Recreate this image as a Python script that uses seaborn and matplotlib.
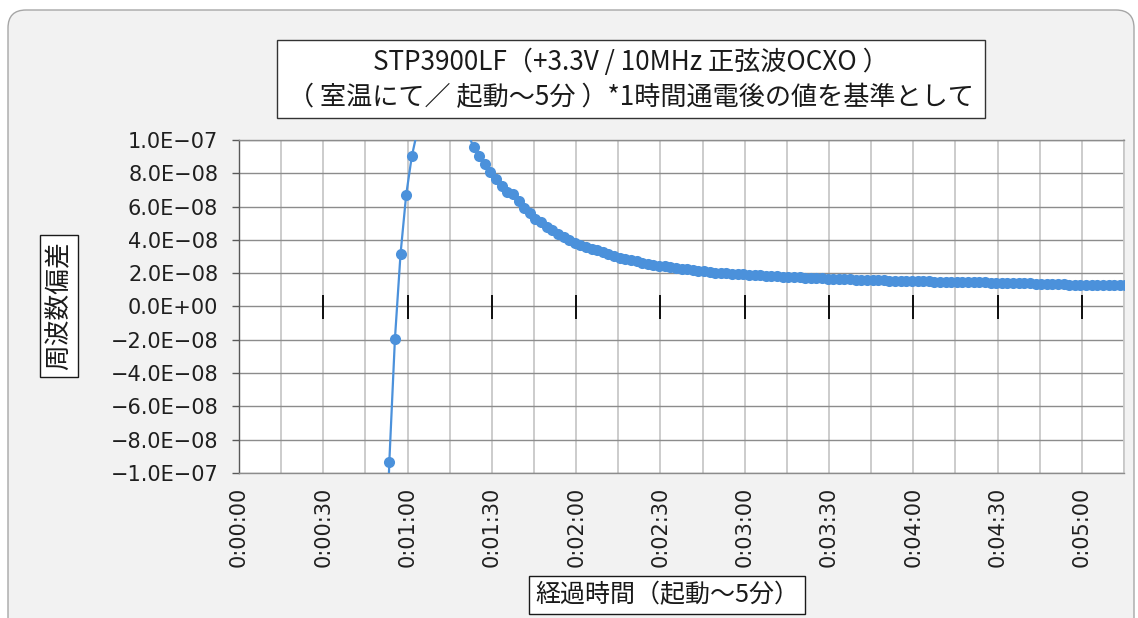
import numpy as np
import pandas as pd
import matplotlib
matplotlib.use('Agg')
import matplotlib.pyplot as plt
import seaborn as sns
from matplotlib.patches import FancyBboxPatch, Rectangle
from matplotlib.ticker import MultipleLocator, FuncFormatter

# 測定データ（2秒ごとのサンプル, 単位: 1e-8）
t_start = 51.5   # 最初のサンプルの経過秒
t_step = 2.0     # サンプル間隔 [s]
dev_e8 = [
    -19.5, -9.35, -1.94, 3.17, 6.70, 9.02, 10.56, 11.4, 11.8, 12.0,
    11.9, 11.6, 11.3, 10.9, 10.5, 10.35, 9.58, 9.06, 8.58, 8.05,
    7.66, 7.25, 6.85, 6.73, 6.31, 5.91, 5.61, 5.27, 5.05, 4.77,
    4.57, 4.35, 4.17, 4.01, 3.81, 3.68, 3.55, 3.44, 3.37, 3.26,
    3.14, 3.04, 2.94, 2.84, 2.77, 2.71, 2.63, 2.58, 2.52, 2.46,
    2.41, 2.37, 2.32, 2.28, 2.24, 2.20, 2.15, 2.11, 2.07, 2.04,
    2.02, 1.99, 1.97, 1.94, 1.93, 1.91, 1.89, 1.87, 1.85, 1.83,
    1.81, 1.80, 1.78, 1.76, 1.75, 1.74, 1.72, 1.71, 1.70, 1.68,
    1.66, 1.65, 1.64, 1.63, 1.62, 1.61, 1.60, 1.59, 1.58, 1.57,
    1.56, 1.56, 1.55, 1.54, 1.53, 1.52, 1.52, 1.51, 1.50, 1.49,
    1.49, 1.48, 1.48, 1.47, 1.47, 1.46, 1.46, 1.45, 1.44, 1.43,
    1.42, 1.42, 1.41, 1.40, 1.40, 1.39, 1.38, 1.37, 1.37, 1.35,
    1.35, 1.34, 1.32, 1.32, 1.31, 1.31, 1.30, 1.30, 1.30, 1.29,
    1.29, 1.29, 1.28,
]

title_line1 = 'STP3900LF（+3.3V / 10MHz 正弦波OCXO ）'
title_line2 = '（ 室温にて／ 起動～5分 ）*1時間通電後の値を基準として'
y_label = '周波数偏差'
x_label = '経過時間（起動～5分）'

t_sec = t_start + t_step * np.arange(len(dev_e8))
df = pd.DataFrame({'t': t_sec, 'dev': np.array(dev_e8) * 1e-8})

sns.set_theme(style='white')
plt.rcParams['font.family'] = ['Noto Sans CJK JP', 'DejaVu Sans']

W, H = 1138, 618
fig = plt.figure(figsize=(W / 100, H / 100), dpi=100)
fig.patch.set_facecolor('white')

# グラフエリアの枠（角丸）
frame = FancyBboxPatch((0.08, -0.3), 11.26, 6.38, boxstyle='round,pad=0,rounding_size=0.18',
                       transform=fig.dpi_scale_trans, fc='#f2f2f2', ec='#a6a6a6', lw=1.0, zorder=0)
fig.add_artist(frame)

ax = fig.add_axes([239 / W, 1 - 473 / H, (1124 - 239) / W, 333 / H])
ax.set_facecolor('white')

blue = '#4b91db'
sns.lineplot(data=df, x='t', y='dev', ax=ax, color=blue, linewidth=1.6,
             marker='o', markersize=8, markeredgewidth=0, sort=False, zorder=4)

ax.set_xlim(0, 315)
ax.set_ylim(-1e-7, 1e-7)

ax.xaxis.set_major_locator(MultipleLocator(30))
ax.xaxis.set_minor_locator(MultipleLocator(15))
ax.yaxis.set_major_locator(MultipleLocator(2e-8))


def fmt_time(s, pos):
    s = int(round(s))
    return f'0:{s // 60:02d}:{s % 60:02d}'


def fmt_sci(v, pos):
    if abs(v) < 1e-12:
        v = 0.0
    return f'{v:.1E}'.replace('-', '\u2212')


ax.xaxis.set_major_formatter(FuncFormatter(fmt_time))
ax.yaxis.set_major_formatter(FuncFormatter(fmt_sci))

ax.grid(True, axis='x', which='both', color='#c8c8c8', linewidth=1.3)
ax.grid(True, axis='y', which='major', color='#8c8c8c', linewidth=1.0)
ax.set_axisbelow(True)

for side in ['top', 'bottom']:
    ax.spines[side].set_color('#8c8c8c')
    ax.spines[side].set_linewidth(1.0)
ax.spines['right'].set_color('#c8c8c8')
ax.spines['right'].set_linewidth(1.3)
ax.spines['left'].set_color('#595959')
ax.spines['left'].set_linewidth(1.0)

ax.tick_params(axis='x', which='both', length=0, pad=10, labelrotation=90,
               labelsize=15, labelcolor='#1f1f1f', labelfontfamily='DejaVu Sans')
ax.tick_params(axis='y', which='major', length=5, width=1.0, color='#595959', left=True,
               direction='out', pad=10, labelsize=15, labelcolor='#1f1f1f',
               labelfontfamily='DejaVu Sans')

ax.set_xlabel('')
ax.set_ylabel('')

# 0 ライン上の目盛り
xt = [v for v in ax.get_xticks() if 0 < v <= 315]
ax.plot(xt, np.zeros(len(xt)), linestyle='none', marker='|', markersize=17,
        markeredgewidth=1.3, color='black', zorder=3)

# タイトル
fig.add_artist(Rectangle((277 / W, 1 - 118 / H), (985 - 277) / W, 78 / H,
                         transform=fig.transFigure, fc='white', ec='#333333', lw=1.0))
fig.text(631 / W, 1 - 62 / H, title_line1, ha='center', va='center', fontsize=18.8, color='#1a1a1a')
fig.text(631 / W, 1 - 98 / H, title_line2, ha='center', va='center', fontsize=18.8, color='#1a1a1a')

# 軸ラベル
box = dict(boxstyle='square,pad=0.25', fc='white', ec='#1a1a1a', lw=1.0)
fig.text(59 / W, 1 - 306 / H, y_label, rotation=90, ha='center', va='center',
         fontsize=18.5, color='#1a1a1a', bbox=box)
fig.text(667 / W, 1 - 595 / H, x_label, ha='center', va='center',
         fontsize=18, color='#1a1a1a', bbox=box)

fig.savefig('out.png', dpi=100, facecolor=fig.get_facecolor())
